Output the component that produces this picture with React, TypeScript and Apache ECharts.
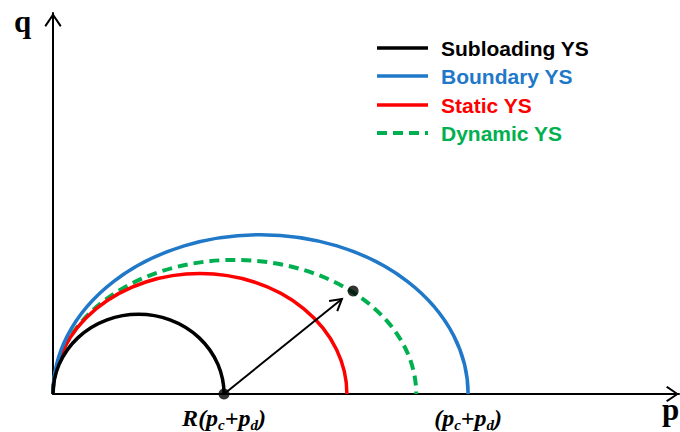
import React, { useEffect, useRef } from 'react';
import * as echarts from 'echarts';

// Yield surfaces in p–q space, each a half ellipse starting at the origin.
// p units are normalised so that (pc + pd) = 1.
const surfaceNames = ['Subloading YS', 'Boundary YS', 'Static YS', 'Dynamic YS'];
const surfaceColors = ['#000000', '#1f78c8', '#ff0000', '#00b050'];
const surfaceDashed = [false, false, false, true];
const surfacePEnd = [0.412, 1.0, 0.708, 0.875]; // where each surface meets the p axis
const surfaceQPeak = [0.192, 0.384, 0.29, 0.323]; // apex q of each surface

// Labelled positions on the p axis
const xTickValues = [0.412, 1.0];
const xTickLabels = ['{m|R(p}{s|c}{m|+p}{s|d}{m|)}', '{m|(p}{s|c}{m|+p}{s|d}{m|)}'];

// Mapping arrow from the subloading tip to the dynamic surface
const arrowSegment = [0.412, 0, 0.696, 0.229];
const stressPoints = [
  [0.412, 0],
  [0.723, 0.248],
];

const X_MAX = 1.508;
const Y_MAX = 0.918;

const chevron = 'path://M8,0 L16,11.6 L14.6,13 L8,3.2 L1.4,13 L0,11.6 Z';

export default function App() {
  const ref = useRef<HTMLDivElement>(null);

  useEffect(() => {
    if (!ref.current) return;
    const chart = echarts.init(ref.current, null, { renderer: 'svg' });

    const ellipseSeries = surfaceNames.map((name, i) => ({
      type: 'custom',
      name,
      coordinateSystem: 'cartesian2d',
      data: [[surfacePEnd[i], surfaceQPeak[i]]],
      z: 10 - i,
      renderItem: (_params: any, api: any) => {
        const pEnd = api.value(0);
        const qPeak = api.value(1);
        const o = api.coord([0, 0]);
        const e = api.coord([pEnd, 0]);
        const t = api.coord([pEnd / 2, qPeak]);
        const rx = (e[0] - o[0]) / 2;
        const ry = o[1] - t[1];
        return {
          type: 'path',
          shape: {
            pathData: `M${o[0]} ${o[1]} A${rx} ${ry} 0 0 1 ${e[0]} ${e[1]}`,
          },
          style: {
            fill: 'none',
            stroke: surfaceColors[i],
            lineWidth: surfaceDashed[i] ? 4 : 3.5,
            lineDash: surfaceDashed[i] ? [10, 6] : null,
          },
        };
      },
    }));

    const serifItalic = {
      fontFamily: 'Liberation Serif',
      fontStyle: 'italic',
      fontWeight: 'bold',
      color: '#000',
      verticalAlign: 'top',
    };
    const labelRich = {
      m: { ...serifItalic, fontSize: 24, padding: [0, 0, 0, 0] },
      s: { ...serifItalic, fontSize: 15, padding: [11, 0, 0, 0] },
    };

    const legendY = [48, 76, 105, 133];
    const legendGraphics: any[] = [];
    surfaceNames.forEach((name, i) => {
      legendGraphics.push({
        type: 'line',
        shape: { x1: 377, y1: legendY[i], x2: 428, y2: legendY[i] },
        style: {
          stroke: surfaceColors[i],
          lineWidth: surfaceDashed[i] ? 4 : 3.5,
          lineDash: surfaceDashed[i] ? [10, 6] : null,
        },
      });
      legendGraphics.push({
        type: 'text',
        x: 441,
        y: legendY[i],
        style: {
          text: name,
          fill: surfaceColors[i],
          font: 'bold 21px "Liberation Sans", Arial, sans-serif',
          verticalAlign: 'middle',
        },
      });
    });

    chart.setOption({
      animation: false,
      backgroundColor: '#ffffff',
      grid: { left: 53, right: 1, top: 13, bottom: 38, containLabel: false },
      xAxis: {
        type: 'value',
        min: 0,
        max: X_MAX,
        splitLine: { show: false },
        axisTick: { show: false },
        axisLine: {
          show: true,
          onZero: false,
          lineStyle: { color: '#000', width: 2 },
          symbol: ['none', chevron],
          symbolSize: [16, 13],
          symbolOffset: [0, -6.5],
        },
        axisLabel: {
          show: true,
          customValues: xTickValues,
          margin: 12,
          formatter: (v: number) => {
            const idx = xTickValues.findIndex((t) => Math.abs(t - v) < 1e-6);
            return idx >= 0 ? xTickLabels[idx] : '';
          },
          rich: labelRich,
        },
      },
      yAxis: {
        type: 'value',
        min: 0,
        max: Y_MAX,
        splitLine: { show: false },
        axisTick: { show: false },
        axisLabel: { show: false },
        axisLine: {
          show: true,
          onZero: false,
          lineStyle: { color: '#000', width: 2 },
          symbol: ['none', chevron],
          symbolSize: [17, 14],
          symbolOffset: [0, -7],
        },
      },
      graphic: [
        {
          type: 'text',
          x: 14,
          y: 21,
          style: {
            text: 'q',
            fill: '#000',
            font: 'bold 31px "Liberation Serif", "Times New Roman", serif',
            verticalAlign: 'middle',
          },
        },
        {
          type: 'text',
          x: 662,
          y: 409,
          style: {
            text: 'p',
            fill: '#000',
            font: 'bold 31px "Liberation Serif", "Times New Roman", serif',
            verticalAlign: 'middle',
          },
        },
        ...legendGraphics,
      ],
      series: [
        ...ellipseSeries,
        {
          type: 'custom',
          name: 'mapping',
          coordinateSystem: 'cartesian2d',
          encode: { x: [0, 2], y: [1, 3] },
          data: [arrowSegment],
          z: 20,
          renderItem: (_params: any, api: any) => {
            const s = api.coord([api.value(0), api.value(1)]);
            const t = api.coord([api.value(2), api.value(3)]);
            const ang = Math.atan2(t[1] - s[1], t[0] - s[0]);
            const len = 13;
            const half = Math.PI / 6;
            const p1 = [t[0] - len * Math.cos(ang - half), t[1] - len * Math.sin(ang - half)];
            const p2 = [t[0] - len * Math.cos(ang + half), t[1] - len * Math.sin(ang + half)];
            return {
              type: 'group',
              children: [
                {
                  type: 'line',
                  shape: { x1: s[0], y1: s[1], x2: t[0], y2: t[1] },
                  style: { stroke: '#000', lineWidth: 2 },
                },
                {
                  type: 'polyline',
                  shape: { points: [p1, t, p2] },
                  style: { stroke: '#000', fill: 'none', lineWidth: 2 },
                },
              ],
            };
          },
        },
        {
          type: 'scatter',
          name: 'points',
          data: stressPoints,
          symbol: 'circle',
          symbolSize: 11,
          itemStyle: { color: '#000' },
          z: 30,
        },
      ],
    });

    return () => chart.dispose();
  }, []);

  return (
    <div
      ref={ref}
      style={{ position: 'fixed', left: 0, top: 0, width: 680, height: 432 }}
    />
  );
}
